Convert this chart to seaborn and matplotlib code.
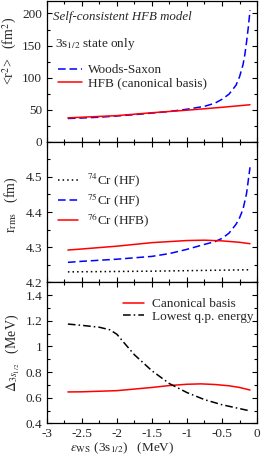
import numpy as np
import pandas as pd
import matplotlib
matplotlib.use("Agg")
import matplotlib.pyplot as plt
from matplotlib.ticker import MultipleLocator, FormatStrFormatter, FixedLocator
import seaborn as sns

# ---- data ----
# top panel: <r^2> of the 3s1/2 state
eps_ws = [-2.7, -2.5, -2.25, -2.0, -1.75, -1.5, -1.25, -1.0, -0.75, -0.6, -0.5,
          -0.4, -0.3, -0.25, -0.2, -0.175, -0.15, -0.125, -0.1]
r2_ws = [36.0, 36.8, 38.0, 40.0, 42.0, 44.5, 47.0, 50.5, 55.0, 60.0, 66.0,
         74.0, 88.0, 101.0, 120.0, 135.0, 155.0, 178.0, 205.0]
eps_can = [-2.7, -2.5, -2.0, -1.5, -1.0, -0.5, -0.1]
r2_can = [37.0, 38.0, 40.5, 45.0, 49.0, 53.5, 57.5]

# middle panel: rms radii
eps_74 = [-2.7, -1.5, -0.1]
rms_74 = [4.230, 4.232, 4.236]
eps_75 = [-2.7, -2.5, -2.0, -1.5, -1.25, -1.0, -0.75, -0.6, -0.5, -0.4, -0.3,
          -0.25, -0.2, -0.15, -0.1]
rms_75 = [4.257, 4.260, 4.266, 4.274, 4.282, 4.294, 4.308, 4.316, 4.325, 4.340,
          4.365, 4.383, 4.408, 4.452, 4.527]
eps_76 = [-2.7, -2.5, -2.0, -1.5, -1.0, -0.75, -0.5, -0.25, -0.1]
rms_76 = [4.292, 4.295, 4.303, 4.313, 4.319, 4.320, 4.318, 4.314, 4.310]

# bottom panel: pairing gaps
eps_gap = [-2.7, -2.5, -2.0, -1.5, -1.25, -1.0, -0.8, -0.6, -0.4, -0.25, -0.1]
gap_can = [0.645, 0.646, 0.655, 0.680, 0.695, 0.705, 0.708, 0.703, 0.693, 0.680, 0.660]
eps_qp = [-2.7, -2.5, -2.25, -2.1, -2.0, -1.9, -1.75, -1.5, -1.25, -1.0, -0.75,
          -0.5, -0.25, -0.1]
gap_qp = [1.175, 1.165, 1.150, 1.130, 1.095, 1.030, 0.935, 0.810, 0.710, 0.640,
          0.585, 0.545, 0.515, 0.497]

sns.set_style("ticks")
plt.rcParams["font.family"] = ["Liberation Serif", "DejaVu Serif"]
plt.rcParams["mathtext.fontset"] = "stix"
plt.rcParams["font.size"] = 10

fig = plt.figure(figsize=(2.62, 4.57), dpi=100)
gs = fig.add_gridspec(3, 1, left=0.179, right=0.981, top=0.9985, bottom=0.0737, hspace=0)
ax1 = fig.add_subplot(gs[0])
ax2 = fig.add_subplot(gs[1], sharex=ax1)
ax3 = fig.add_subplot(gs[2], sharex=ax1)

blue = "#0000ff"
red = "#ff0000"
lw = 1.1
fs = 9.5

# panel 1
sns.lineplot(x=eps_ws, y=r2_ws, ax=ax1, color=blue, lw=lw,
             linestyle=(0, (5, 2.5)), label="Woods-Saxon")
sns.lineplot(x=eps_can, y=r2_can, ax=ax1, color=red, lw=lw, label="HFB (canonical basis)")
ax1.set_ylim(0, 220)
ax1.yaxis.set_major_locator(MultipleLocator(50))
ax1.yaxis.set_minor_locator(MultipleLocator(25))
ax1.text(-2.91, 194, "Self-consistent HFB model", style="italic", va="center", fontsize=9.3)
ax1.text(-2.885, 152, "3s$_{1/2}$ state only", va="center", fontsize=fs)
ax1.legend(loc="upper left", bbox_to_anchor=(0.054, 0.55), frameon=False,
           borderpad=0, borderaxespad=0, handlelength=1.77, handletextpad=0.5,
           labelspacing=0.05, fontsize=fs)
ax1.set_ylabel("<r$^2$>   (fm$^2$)", fontsize=10, va="center")
ax1.yaxis.set_label_coords(-0.175, 0.645)

# panel 2
sns.lineplot(x=eps_74, y=rms_74, ax=ax2, color="black", lw=lw,
             linestyle=(0, (1, 2)), label="$^{74}$Cr (HF)")
sns.lineplot(x=eps_75, y=rms_75, ax=ax2, color=blue, lw=lw,
             linestyle=(0, (5, 2.5)), label="$^{75}$Cr (HF)")
sns.lineplot(x=eps_76, y=rms_76, ax=ax2, color=red, lw=lw, label="$^{76}$Cr (HFB)")
ax2.set_ylim(4.2, 4.6)
ax2.yaxis.set_major_locator(FixedLocator([4.2, 4.3, 4.4, 4.5]))
ax2.yaxis.set_minor_locator(MultipleLocator(0.05))
ax2.yaxis.set_major_formatter(FormatStrFormatter("%g"))
ax2.legend(loc="upper left", bbox_to_anchor=(0.054, 0.785), frameon=False,
           borderpad=0, borderaxespad=0, handlelength=1.5, handletextpad=0.65,
           labelspacing=0.15, fontsize=fs)
ax2.set_ylabel("r$_{\\rm rms}$   (fm)", fontsize=10, va="center")
ax2.yaxis.set_label_coords(-0.17, 0.554)

# panel 3
sns.lineplot(x=eps_gap, y=gap_can, ax=ax3, color=red, lw=lw, label="Canonical basis")
sns.lineplot(x=eps_qp, y=gap_qp, ax=ax3, color="black", lw=lw,
             linestyle=(0, (5, 2, 1, 2)), label="Lowest q.p. energy")
ax3.set_ylim(0.4, 1.5)
ax3.yaxis.set_major_locator(MultipleLocator(0.2))
ax3.yaxis.set_minor_locator(MultipleLocator(0.1))
ax3.yaxis.set_major_formatter(FormatStrFormatter("%g"))
ax3.legend(loc="upper left", bbox_to_anchor=(0.36, 0.89), frameon=False,
           borderpad=0, borderaxespad=0, handlelength=1.6, handletextpad=0.65,
           labelspacing=0.05, fontsize=fs)
ax3.set_ylabel("$\\Delta_{3s_{1/2}}$   (MeV)", fontsize=10, va="center")
ax3.yaxis.set_label_coords(-0.165, 0.5)
ax3.set_xlabel("$\\varepsilon_{\\rm WS}$ (3s$_{1/2}$)   (MeV)", fontsize=9.5, va="center")
ax3.xaxis.set_label_coords(0.36, -0.178)

ax1.set_xlim(-3, 0)
ax1.xaxis.set_major_locator(MultipleLocator(0.5))
ax1.xaxis.set_minor_locator(MultipleLocator(0.25))
ax3.xaxis.set_major_formatter(FormatStrFormatter("%g"))

for ax in (ax1, ax2, ax3):
    ax.tick_params(which="both", direction="in", top=True, right=True,
                   labelsize=9.5, width=0.8, color="black")
    ax.tick_params(which="major", length=3.5)
    ax.tick_params(which="minor", length=2)
    for s in ax.spines.values():
        s.set_linewidth(0.9)
        s.set_color("black")
for ax in (ax1, ax2):
    ax.tick_params(labelbottom=False)

fig.savefig("out.png", dpi=100)
